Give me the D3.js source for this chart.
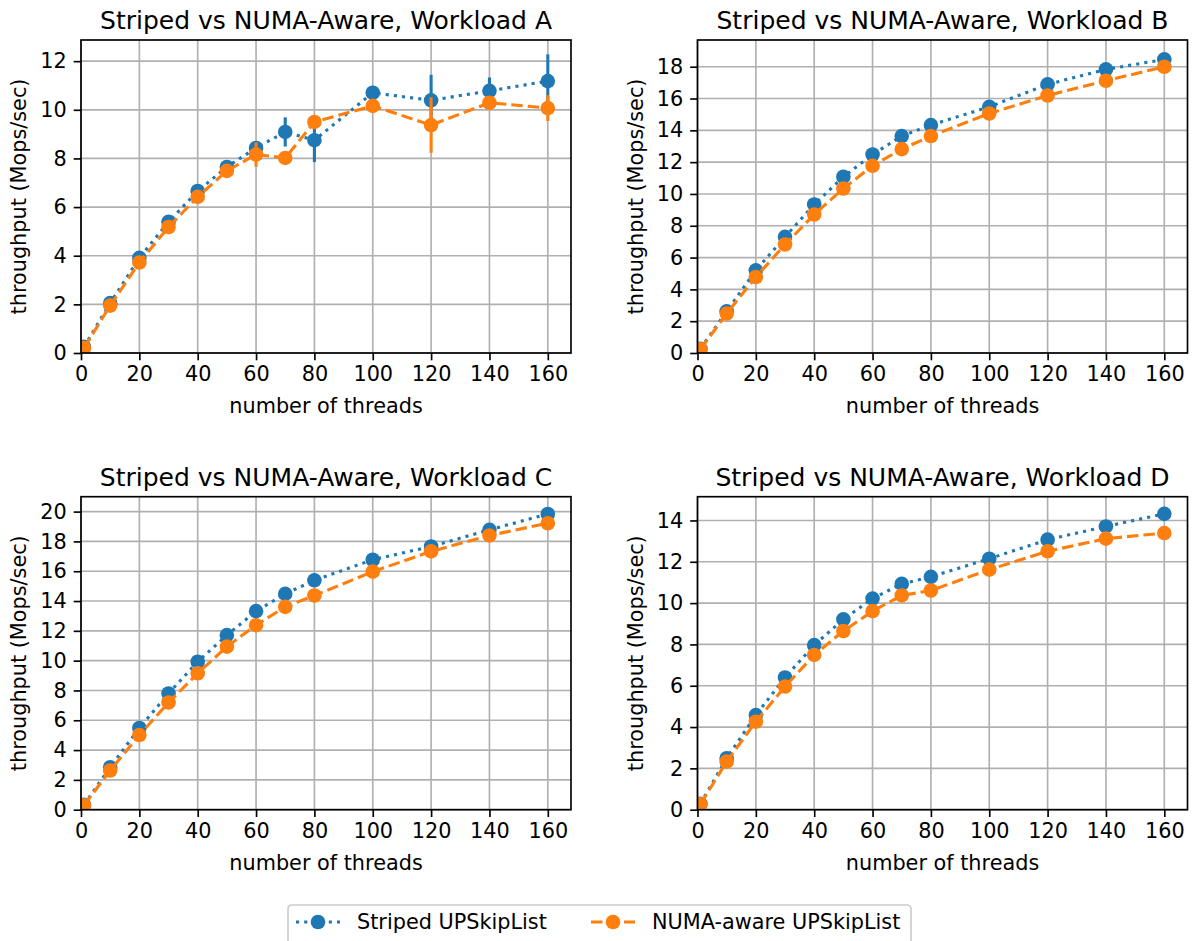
<!DOCTYPE html>
<html>
<head>
<meta charset="utf-8">
<script src="https://cdn.jsdelivr.net/npm/d3@7/dist/d3.min.js"></script>
<style>
  html, body { margin: 0; padding: 0; background: #fff; }
  svg text { font-family: "DejaVu Sans", sans-serif; fill: #000; }
</style>
</head>
<body>
<div id="chart"></div>
<script>
// thread counts on the x axis
const threads = [1, 10, 20, 30, 40, 50, 60, 70, 80, 100, 120, 140, 160];
const xTicks = [0, 20, 40, 60, 80, 100, 120, 140, 160];

const seriesNames = ['Striped UPSkipList', 'NUMA-aware UPSkipList'];

// workload A
const stripedA = [0.25, 2.05, 3.91, 5.39, 6.66, 7.65, 8.43, 9.09, 8.75, 10.70, 10.39, 10.78, 11.18];
const stripedErrA = [0, 0.05, 0, 0, 0, 0.05, 0.1, 0.6, 0.9, 0.1, 1.05, 0.55, 1.1];
const numaA = [0.2, 1.95, 3.72, 5.18, 6.42, 7.49, 8.16, 8.02, 9.50, 10.16, 9.37, 10.29, 10.07];
const numaErrA = [0, 0.05, 0.05, 0, 0, 0, 0.5, 0.05, 0.1, 0.25, 1.14, 0.1, 0.53];

// workload B
const stripedB = [0.27, 2.62, 5.20, 7.30, 9.34, 11.08, 12.48, 13.64, 14.33, 15.48, 16.89, 17.83, 18.46];
const numaB = [0.23, 2.48, 4.78, 6.82, 8.71, 10.34, 11.77, 12.82, 13.64, 15.06, 16.19, 17.12, 18.0];

// workload C
const stripedC = [0.33, 2.85, 5.48, 7.80, 9.93, 11.71, 13.32, 14.48, 15.39, 16.77, 17.66, 18.78, 19.84];
const numaC = [0.29, 2.63, 5.01, 7.19, 9.15, 10.94, 12.38, 13.61, 14.37, 15.97, 17.33, 18.40, 19.22];

// workload D
const stripedD = [0.29, 2.49, 4.58, 6.40, 7.97, 9.21, 10.22, 10.93, 11.27, 12.15, 13.07, 13.71, 14.32];
const numaD = [0.26, 2.33, 4.26, 5.96, 7.49, 8.65, 9.61, 10.37, 10.61, 11.62, 12.51, 13.12, 13.39];
const numaErrD = [0, 0, 0, 0, 0, 0, 0, 0, 0, 0, 0, 0, 0.3];

const yTicksA = [0, 2, 4, 6, 8, 10, 12];
const yTicksB = [0, 2, 4, 6, 8, 10, 12, 14, 16, 18];
const yTicksC = [0, 2, 4, 6, 8, 10, 12, 14, 16, 18, 20];
const yTicksD = [0, 2, 4, 6, 8, 10, 12, 14];

const xMax = 167.95;
const yMaxes = [12.87, 19.68, 21.0, 15.15];
const titles = ['Striped vs NUMA-Aware, Workload A', 'Striped vs NUMA-Aware, Workload B',
  'Striped vs NUMA-Aware, Workload C', 'Striped vs NUMA-Aware, Workload D'];

const zero = threads.map(() => 0);
const panels = [
  { title: titles[0], striped: stripedA, sErr: stripedErrA, numa: numaA, nErr: numaErrA, yTicks: yTicksA, yMax: yMaxes[0], left: 81, top: 40 },
  { title: titles[1], striped: stripedB, sErr: zero, numa: numaB, nErr: zero, yTicks: yTicksB, yMax: yMaxes[1], left: 697.5, top: 40 },
  { title: titles[2], striped: stripedC, sErr: zero, numa: numaC, nErr: zero, yTicks: yTicksC, yMax: yMaxes[2], left: 81, top: 496.7 },
  { title: titles[3], striped: stripedD, sErr: zero, numa: numaD, nErr: numaErrD, yTicks: yTicksD, yMax: yMaxes[3], left: 697.5, top: 496.7 }
];

const W = 1200, H = 941;
const pw = 490, ph = 313;
const colors = ['#1f77b4', '#ff7f0e'];
const lw = 3.1;
const dashes = ['3.1,5.1', '11.5,5'];
const markerR = 7.3;
const fs = 20.8, titleFs = 25;

const svg = d3.select('#chart').append('svg')
  .attr('width', W).attr('height', H);

panels.forEach(function (p, i) {
  let x = d3.scaleLinear().domain([0, xMax]).range([0, pw]);
  let y = d3.scaleLinear().domain([0, p.yMax]).range([ph, 0]);

  let g = svg.append('g').attr('transform', 'translate(' + p.left + ',' + p.top + ')');

  g.append('clipPath').attr('id', 'clip' + i)
    .append('rect').attr('width', pw).attr('height', ph);

  // grid
  g.append('g').selectAll('line').data(xTicks).enter().append('line')
    .attr('x1', d => x(d)).attr('x2', d => x(d))
    .attr('y1', 0).attr('y2', ph)
    .attr('stroke', '#b0b0b0').attr('stroke-width', 1.66);
  g.append('g').selectAll('line').data(p.yTicks).enter().append('line')
    .attr('y1', d => y(d)).attr('y2', d => y(d))
    .attr('x1', 0).attr('x2', pw)
    .attr('stroke', '#b0b0b0').attr('stroke-width', 1.66);

  let plot = g.append('g').attr('clip-path', 'url(#clip' + i + ')');
  let series = [[p.striped, p.sErr], [p.numa, p.nErr]];
  series.forEach(function (s, k) {
    let vals = s[0], errs = s[1];
    let line = d3.line().x((d, j) => x(threads[j])).y(d => y(d));
    plot.append('path').datum(vals)
      .attr('d', line)
      .attr('fill', 'none')
      .attr('stroke', colors[k])
      .attr('stroke-width', lw)
      .attr('stroke-dasharray', dashes[k]);
    plot.append('g').selectAll('line').data(vals).enter().append('line')
      .attr('x1', (d, j) => x(threads[j])).attr('x2', (d, j) => x(threads[j]))
      .attr('y1', (d, j) => y(d - errs[j])).attr('y2', (d, j) => y(d + errs[j]))
      .attr('stroke', colors[k]).attr('stroke-width', lw);
    plot.append('g').selectAll('circle').data(vals).enter().append('circle')
      .attr('cx', (d, j) => x(threads[j])).attr('cy', d => y(d))
      .attr('r', markerR).attr('fill', colors[k]);
  });

  // axes
  let xAxis = g.append('g').attr('transform', 'translate(0,' + ph + ')')
    .call(d3.axisBottom(x).tickValues(xTicks).tickSize(7.3).tickPadding(6));
  let yAxis = g.append('g')
    .call(d3.axisLeft(y).tickValues(p.yTicks).tickSize(7.3).tickPadding(7));
  [xAxis, yAxis].forEach(function (a) {
    a.select('.domain').remove();
    a.selectAll('line').attr('stroke', '#000').attr('stroke-width', 1.66);
    a.selectAll('text').attr('font-size', fs).attr('font-family', '"DejaVu Sans", sans-serif');
  });

  // frame
  g.append('rect').attr('width', pw).attr('height', ph)
    .attr('fill', 'none').attr('stroke', '#000').attr('stroke-width', 1.66);

  g.append('text').attr('x', pw / 2).attr('y', -11)
    .attr('text-anchor', 'middle').attr('font-size', titleFs).text(p.title);
  g.append('text').attr('x', pw / 2).attr('y', ph + 60)
    .attr('text-anchor', 'middle').attr('font-size', fs).text('number of threads');
  g.append('text').attr('transform', 'translate(-62,' + (ph / 2) + ') rotate(-90)')
    .attr('text-anchor', 'middle').attr('dominant-baseline', 'central')
    .attr('font-size', fs).text('throughput (Mops/sec)');
});

// legend
let legend = svg.append('g');
legend.append('rect').attr('x', 288).attr('y', 905).attr('width', 623).attr('height', 44)
  .attr('rx', 4).attr('fill', '#fff').attr('fill-opacity', 0.8)
  .attr('stroke', '#cccccc').attr('stroke-width', 1.66);
const legendX = [296, 591];
seriesNames.forEach(function (name, k) {
  let lx = legendX[k];
  legend.append('line').attr('x1', lx).attr('x2', lx + 44).attr('y1', 922).attr('y2', 922)
    .attr('stroke', colors[k]).attr('stroke-width', lw).attr('stroke-dasharray', dashes[k]);
  legend.append('circle').attr('cx', lx + 22).attr('cy', 922).attr('r', markerR).attr('fill', colors[k]);
  legend.append('text').attr('x', lx + 61).attr('y', 922).attr('dominant-baseline', 'central')
    .attr('font-size', fs).text(name);
});
</script>
</body>
</html>
